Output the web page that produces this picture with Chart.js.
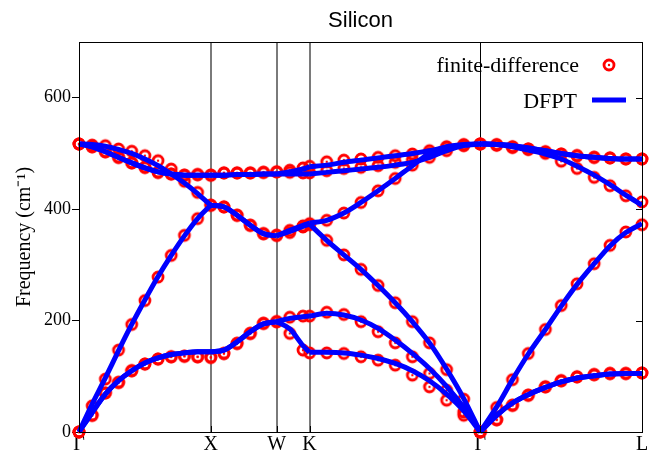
<!DOCTYPE html>
<html>
<head>
<meta charset="utf-8">
<script src="https://cdn.jsdelivr.net/npm/chart.js@4/dist/chart.umd.min.js"></script>
<style>
  html, body { margin: 0; padding: 0; background: #fff; }
</style>
</head>
<body>
<canvas id="band_chart" width="649" height="453"></canvas>
<script>
// q-point position along the path (Gamma-X = 1)
var q_path = [0, 0.1, 0.2, 0.3, 0.4, 0.5, 0.6, 0.7, 0.8, 0.9, 1.0,
  1.1, 1.2, 1.3, 1.4, 1.5,
  1.6, 1.7, 1.75,
  1.88, 2.01, 2.14, 2.27, 2.40, 2.53, 2.66, 2.79, 2.92, 3.045,
  3.17, 3.29, 3.41, 3.54, 3.66, 3.78, 3.91, 4.03, 4.15, 4.273];
var sym_pos = [0, 1, 1.5, 1.75, 3.045, 4.273];
var sym_labels = ['Γ', 'X', 'W', 'K', 'Γ', 'L'];
var seg_ends = [10, 15, 18, 28];
var y_ticks = [0, 200, 400, 600];
var series_names = ['finite-difference', 'DFPT'];

// DFPT branches (cm-1)
var dfpt_1 = [0, 35, 68, 92, 110, 124, 133, 139, 142, 144, 144, 147, 162, 180, 194, 198, 185, 155, 143,
  143, 142, 138, 132, 123, 110, 92, 68, 38, 0, 30, 52, 67, 80, 90, 97, 101, 104, 105, 105];
var dfpt_2 = [0, 35, 68, 92, 110, 124, 133, 139, 142, 144, 144, 147, 162, 180, 194, 198, 204, 207, 208,
  213, 210, 201, 186, 165, 141, 114, 82, 44, 0, 30, 52, 67, 80, 90, 97, 101, 104, 105, 105];
var dfpt_3 = [0, 50, 97, 146, 193, 237, 279, 317, 352, 383, 407, 404, 389, 371, 356, 352, 360, 369, 373,
  344, 318, 292, 263, 232, 198, 160, 113, 60, 0, 45, 94, 140, 184, 226, 265, 302, 334, 358, 374];
var dfpt_4 = [517, 516, 513, 507, 500, 490, 478, 463, 447, 428, 407, 404, 389, 371, 356, 352, 362, 371, 375,
  380, 393, 412, 433, 455, 478, 500, 512, 516, 517, 516, 512, 506, 499, 490, 477, 461, 444, 425, 407];
var dfpt_5 = [517, 512, 503, 493, 483, 474, 467, 463, 461, 461, 461, 461, 462, 462, 463, 463, 463, 463, 463,
  466, 469, 472, 475, 479, 484, 493, 505, 514, 517, 516, 514, 510, 505, 500, 496, 493, 491, 490, 490];
var dfpt_6 = [517, 512, 503, 493, 483, 474, 467, 463, 461, 461, 461, 461, 462, 462, 463, 463, 467, 472, 476,
  479, 484, 488, 492, 496, 500, 505, 511, 515, 517, 516, 514, 510, 505, 500, 496, 493, 491, 490, 490];

// finite-difference branches (cm-1)
var fd_1 = [0, 30, 70, 89, 110, 122, 131, 135, 136, 135, 134, 141, 159, 177, 195, 198, 177, 147, 142,
  142, 141, 135, 129, 120, 102, 81, 57, 30, 0, 22, 48, 66, 81, 92, 99, 103, 105, 105, 106];
var fd_2 = [0, 30, 70, 89, 110, 122, 131, 135, 136, 135, 134, 141, 159, 177, 195, 198, 206, 208, 208,
  215, 211, 198, 180, 160, 135, 105, 75, 36, 0, 22, 48, 66, 81, 92, 99, 103, 105, 105, 106];
var fd_3 = [0, 47, 95, 147, 193, 236, 278, 317, 353, 383, 407, 404, 389, 371, 356, 353, 362, 370, 374,
  344, 318, 292, 263, 232, 198, 160, 112, 59, 0, 44, 94, 141, 184, 227, 266, 302, 335, 359, 372];
var fd_4 = [517, 515, 514, 508, 504, 496, 487, 472, 450, 430, 407, 404, 389, 371, 356, 353, 358, 368, 372,
  380, 393, 412, 433, 455, 479, 500, 512, 516, 517, 516, 512, 507, 500, 486, 473, 457, 442, 424, 413];
var fd_5 = [517, 512, 503, 493, 483, 475, 466, 463, 461, 462, 461, 465, 465, 465, 466, 467, 466, 465, 465,
  469, 473, 475, 478, 484, 488, 493, 505, 514, 517, 515, 511, 508, 503, 499, 496, 493, 492, 490, 490];
var fd_6 = [517, 512, 503, 493, 483, 475, 466, 463, 461, 462, 461, 465, 465, 465, 466, 467, 470, 474, 477,
  485, 488, 490, 493, 496, 499, 505, 511, 515, 517, 515, 511, 508, 503, 499, 496, 493, 492, 490, 490];

var fd_branches = [fd_1, fd_2, fd_3, fd_4, fd_5, fd_6];
var dfpt_branches = [dfpt_1, dfpt_2, dfpt_3, dfpt_4, dfpt_5, dfpt_6];

var RED = 'rgb(255,0,0)';
var BLUE = 'rgb(0,0,255)';
var SERIF = '"Liberation Serif", "Times New Roman", serif';

var make_ring = function() {
  var c = document.createElement('canvas');
  c.width = 16;
  c.height = 16;
  var g = c.getContext('2d');
  g.strokeStyle = RED;
  g.lineWidth = 2.8;
  g.beginPath();
  g.arc(8, 8, 5, 0, Math.PI * 2);
  g.stroke();
  g.fillStyle = RED;
  g.beginPath();
  g.arc(8, 8, 1.2, 0, Math.PI * 2);
  g.fill();
  return c;
};
var ring = make_ring();

var fd_points = function(values) {
  var pts = [];
  for (var i = 0; i < values.length; i++) {
    pts.push({x: q_path[i], y: values[i]});
  }
  return pts;
};

// break the line at every high-symmetry point so the kinks stay sharp
var dfpt_points = function(values) {
  var pts = [];
  for (var i = 0; i < values.length; i++) {
    pts.push({x: q_path[i], y: values[i]});
    if (seg_ends.indexOf(i) >= 0) {
      pts.push({x: q_path[i], y: null});
      pts.push({x: q_path[i], y: values[i]});
    }
  }
  return pts;
};

var datasets = [];
for (var b = 0; b < 6; b++) {
  datasets.push({
    label: series_names[0],
    data: fd_points(fd_branches[b]),
    showLine: false,
    pointStyle: ring,
    pointRadius: 6,
    borderColor: RED,
    backgroundColor: RED,
    clip: false,
    order: 1
  });
}
for (var b = 0; b < 6; b++) {
  datasets.push({
    label: series_names[1],
    data: dfpt_points(dfpt_branches[b]),
    borderColor: BLUE,
    backgroundColor: BLUE,
    borderWidth: 5,
    pointRadius: 0,
    cubicInterpolationMode: 'monotone',
    borderJoinStyle: 'round',
    spanGaps: false,
    clip: false,
    order: 0
  });
}

var frame_plugin = {
  id: 'frame_plugin',
  afterDraw: function(chart) {
    var ctx = chart.ctx;
    var a = chart.chartArea;
    var ys = chart.scales.y;
    var xs = chart.scales.x;
    ctx.save();
    ctx.strokeStyle = '#000';
    ctx.lineWidth = 1;
    ctx.strokeRect(Math.round(a.left) + 0.5, Math.round(a.top) + 0.5,
      Math.round(a.right - a.left), Math.round(a.bottom - a.top));
    ctx.beginPath();
    for (var i = 1; i < y_ticks.length; i++) {
      var py = Math.round(ys.getPixelForValue(y_ticks[i])) + 0.5;
      ctx.moveTo(a.right - 6, py);
      ctx.lineTo(a.right, py);
    }
    for (var j = 1; j < sym_pos.length - 1; j++) {
      var px = Math.round(xs.getPixelForValue(sym_pos[j])) + 0.5;
      ctx.moveTo(px, a.bottom);
      ctx.lineTo(px, a.bottom - 6);
    }
    ctx.stroke();

    // key
    ctx.fillStyle = '#000';
    ctx.font = '22px ' + SERIF;
    ctx.textAlign = 'right';
    ctx.textBaseline = 'alphabetic';
    ctx.fillText(series_names[0], a.right - 63, a.top + 29.5);
    ctx.fillText(series_names[1], a.right - 65, a.top + 66);
    ctx.drawImage(ring, a.right - 33 - 8, a.top + 23 - 8);
    ctx.strokeStyle = BLUE;
    ctx.lineWidth = 5;
    ctx.beginPath();
    ctx.moveTo(a.right - 50, a.top + 58);
    ctx.lineTo(a.right - 16, a.top + 58);
    ctx.stroke();
    ctx.restore();
  }
};

var ctx = document.getElementById('band_chart').getContext('2d');
var band_chart = new Chart(ctx, {
  type: 'line',
  data: { datasets: datasets },
  plugins: [frame_plugin],
  options: {
    responsive: false,
    animation: false,
    devicePixelRatio: 1,
    layout: { padding: { left: 0, right: 6, top: 0, bottom: 0 } },
    plugins: {
      legend: { display: false },
      tooltip: { enabled: false },
      title: {
        display: true,
        text: 'Silicon',
        fullSize: false,
        color: '#000',
        font: { family: '"Liberation Sans", Arial, sans-serif', size: 22, weight: 'normal' },
        padding: { top: 8, bottom: 7.6 }
      }
    },
    scales: {
      x: {
        type: 'linear',
        min: 0,
        max: sym_pos[sym_pos.length - 1],
        afterBuildTicks: function(axis) {
          axis.ticks = sym_pos.map(function(v) { return {value: v}; });
        },
        afterFit: function(axis) {
          axis.height = 21;
          axis.paddingLeft = 0;
          axis.paddingRight = 0;
        },
        ticks: {
          autoSkip: false,
          maxRotation: 0,
          padding: 1,
          color: '#000',
          font: { family: SERIF, size: 20 },
          callback: function(value, index) { return sym_labels[index]; }
        },
        grid: {
          drawTicks: false,
          color: function(c) { return (c.index === 1 || c.index === 2 || c.index === 3) ? '#7a7a7a' : '#000'; },
          lineWidth: function(c) { return (c.index === 1 || c.index === 2 || c.index === 3) ? 2 : 1; }
        },
        border: { display: true, color: '#000', width: 1 }
      },
      y: {
        min: 0,
        max: 700,
        afterBuildTicks: function(axis) {
          axis.ticks = y_ticks.map(function(v) { return {value: v}; });
        },
        afterFit: function(axis) {
          axis.width = 79;
          axis.paddingTop = 0;
          axis.paddingBottom = 0;
        },
        ticks: {
          padding: 1,
          color: '#000',
          font: { family: SERIF, size: 18 }
        },
        grid: {
          drawOnChartArea: false,
          drawTicks: true,
          tickLength: 7,
          color: '#000',
          tickColor: '#000'
        },
        border: { display: true, color: '#000', width: 1 },
        title: {
          display: true,
          text: 'Frequency (cm⁻¹)',
          color: '#000',
          font: { family: SERIF, size: 20 },
          padding: { top: 13, bottom: 0 }
        }
      }
    }
  }
});
</script>
</body>
</html>
